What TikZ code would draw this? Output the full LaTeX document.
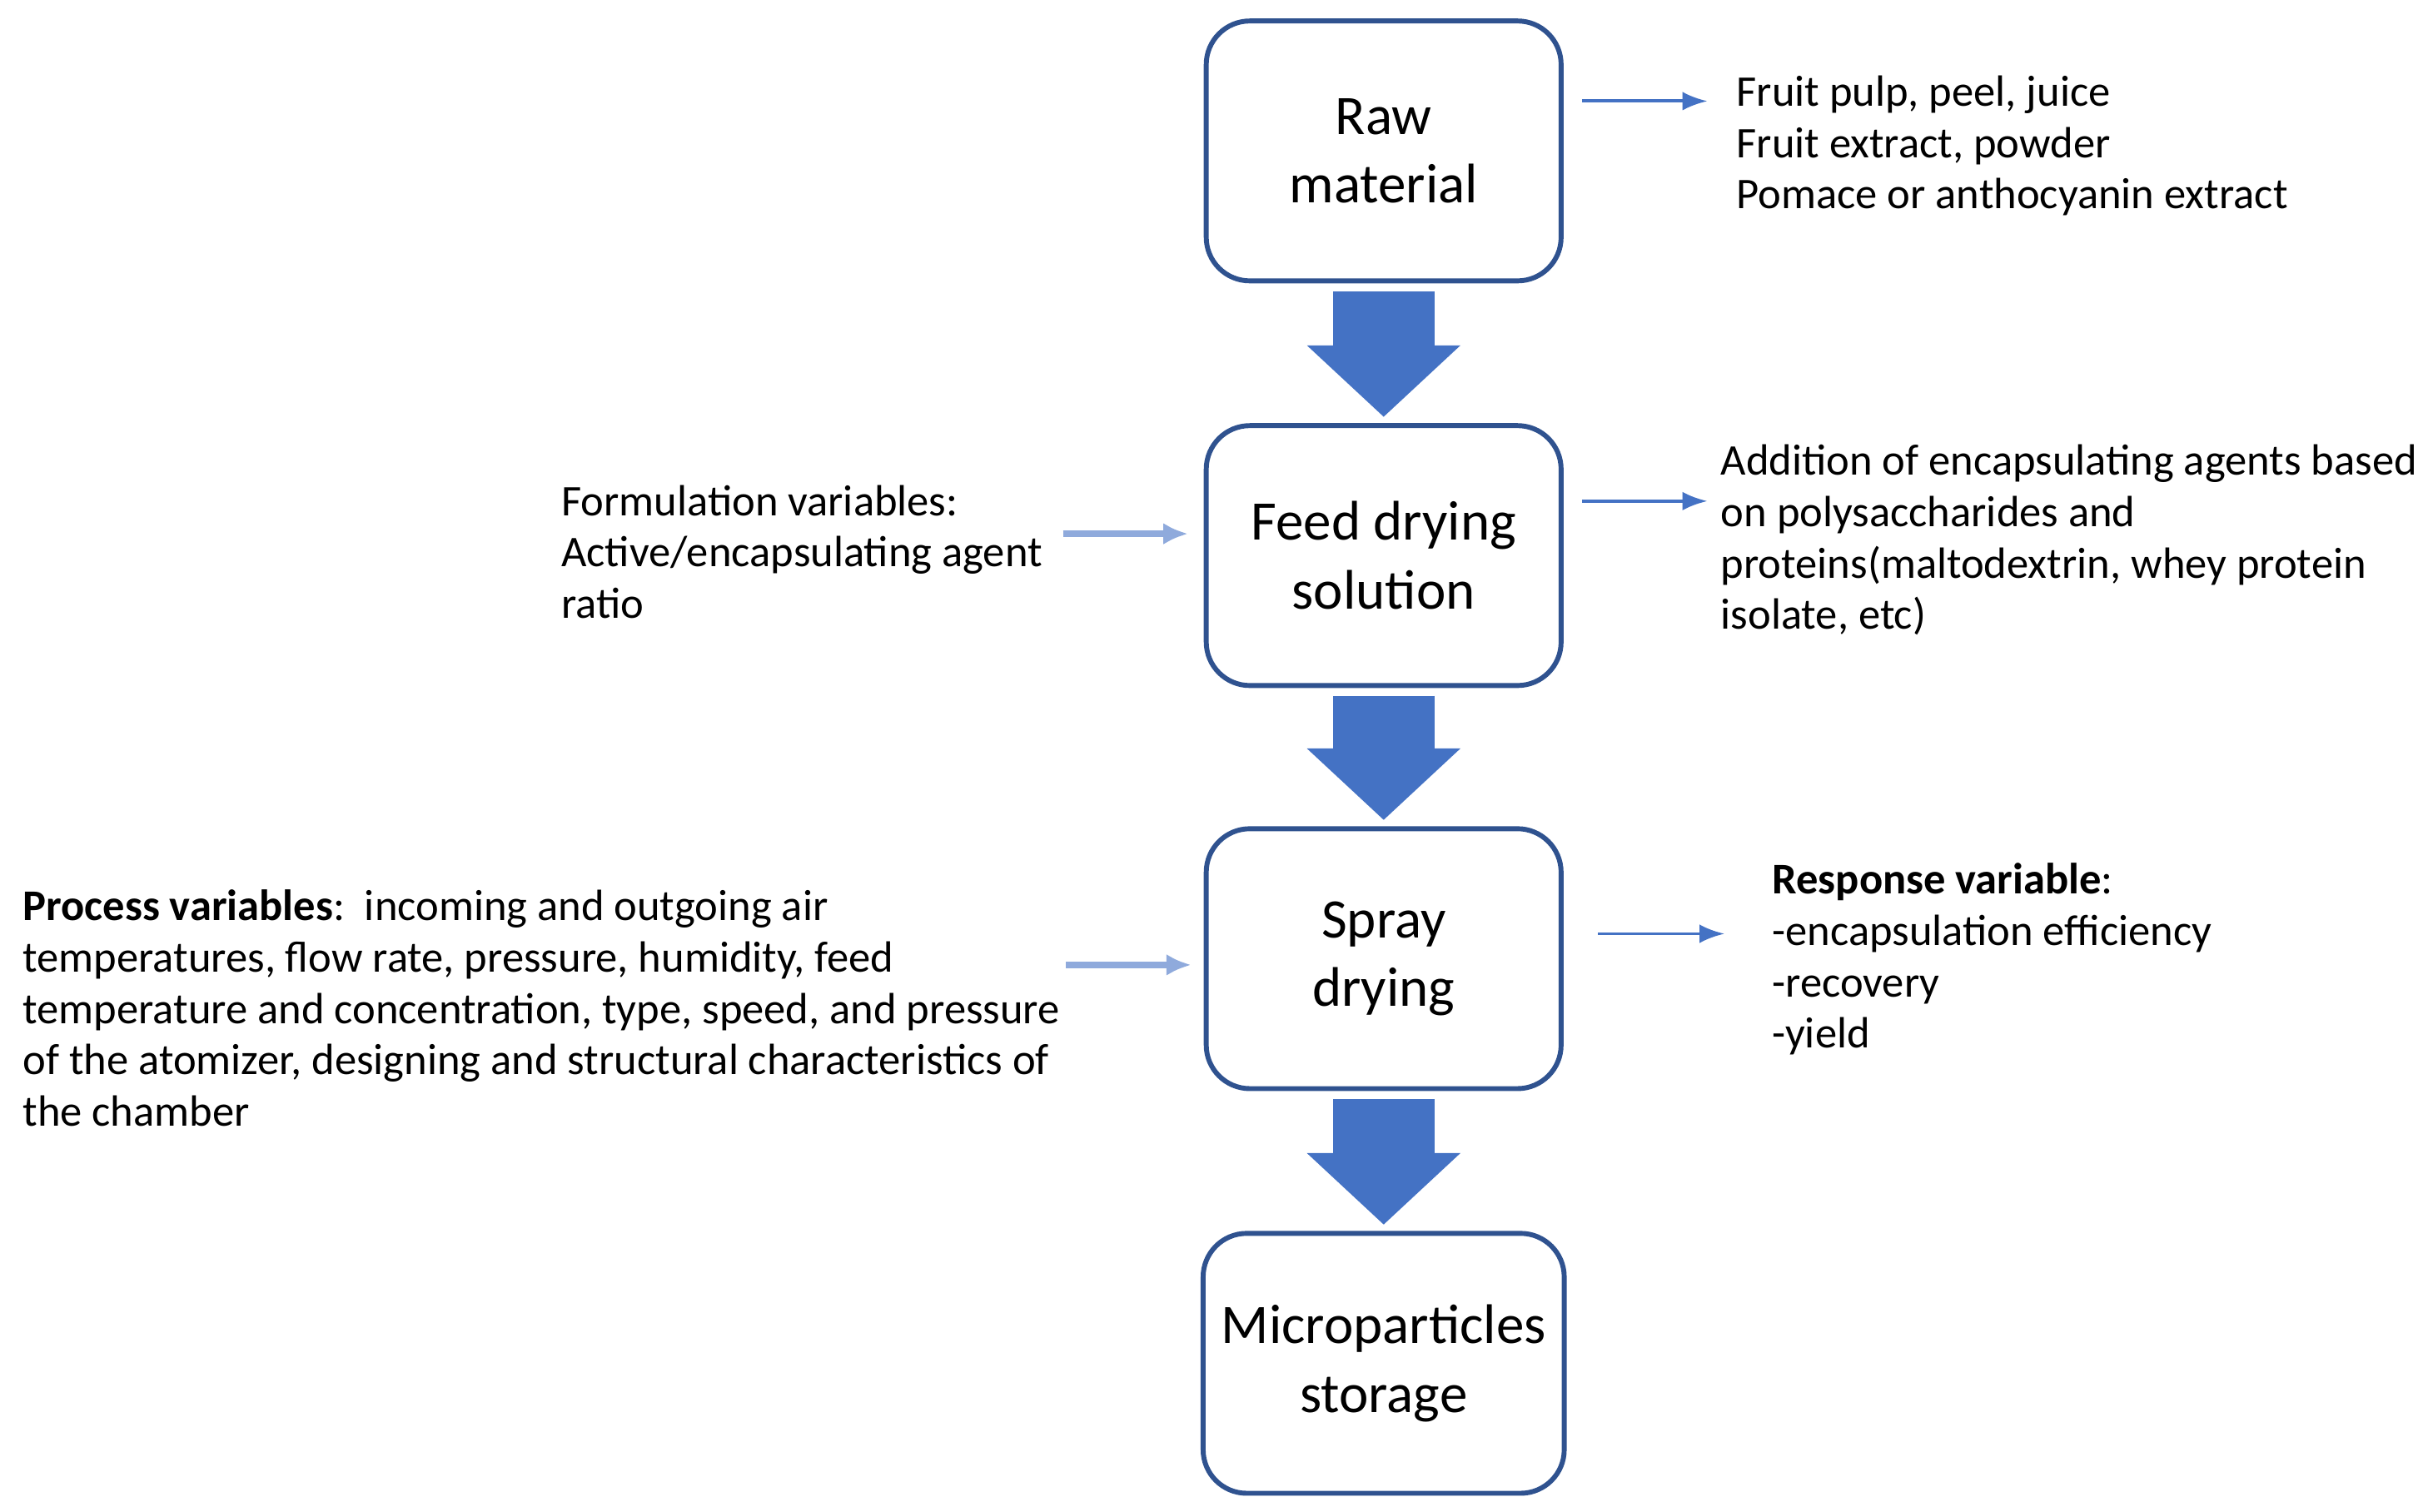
\documentclass[tikz,border=0pt]{standalone}
\usepackage{fontspec}
\setmainfont{Carlito}
\usetikzlibrary{positioning,arrows.meta}
\definecolor{boxline}{HTML}{2F528F}
\definecolor{flowblue}{HTML}{4472C4}
\definecolor{thinblue}{HTML}{8FAADC}

\begin{document}
\begin{tikzpicture}[
  stage/.style={draw=boxline, line width=0.9pt, rounded corners=0.28cm, minimum width=2.28cm, minimum height=1.67cm, align=center, font=\fontsize{10.2}{12.6}\selectfont},
  bigarrow/.style={line width=6.5mm, flowblue, -{Triangle[length=4.6mm, width=9.6mm]}, shorten <=0.5mm, shorten >=0.4mm},
  side/.style={->, flowblue, line width=0.6pt, >={Latex[length=1.6mm, width=1.2mm]}},
  lside/.style={->, thinblue, line width=1.1pt, >={Latex[length=1.6mm, width=1.4mm]}},
  note/.style={anchor=north west, align=left, inner sep=0pt, font=\fontsize{8}{9.4}\selectfont}
]
\useasboundingbox (0,0) rectangle (15.6,9.71);

% main chain
\node[stage] (raw) at (8.89,8.74) {Raw\\material};
\node[stage] (feed) at (8.89,6.14) {Feed drying\\solution};
\node[stage] (spray) at (8.89,3.55) {Spray\\drying};
\node[stage] (store) at (8.89,0.95) {Microparticles\\storage};

\draw[bigarrow] (raw) -- (feed);
\draw[bigarrow] (feed) -- (spray);
\draw[bigarrow] (spray) -- (store);

% notes
\node[note] (rawnote) at (11.15,9.23) {Fruit pulp, peel, juice\\Fruit extract, powder\\Pomace or anthocyanin extract};
\node[note] (feednote) at (11.05,6.86) {Addition of encapsulating agents based\\on polysaccharides and\\proteins(maltodextrin, whey protein\\isolate, etc)};
\node[note] (formnote) at (3.6,6.6) {Formulation variables:\\Active/encapsulating agent\\ratio};
\node[note] (procnote) at (0.14,4.0) {\textbf{Process variables}:\ \ incoming and outgoing air\\temperatures, flow rate, pressure, humidity, feed\\temperature and concentration, type, speed, and pressure\\of the atomizer, designing and structural characteristics of\\the chamber};
\node[note] (respnote) at (11.38,4.17) {\textbf{Response variable}:\\-encapsulation efficiency\\-recovery\\-yield};

\coordinate (rawout) at (10.97,9.06);
\coordinate (feedout) at (10.97,6.49);
\coordinate (sprayout) at (11.08,3.71);
\coordinate (formin) at (6.83,6.28);
\coordinate (procin) at (6.85,3.51);

\draw[side] ([xshift=0.12cm]raw.east |- rawout) -- (rawout);
\draw[side] ([xshift=0.12cm]feed.east |- feedout) -- (feedout);
\draw[side] ([xshift=0.22cm]spray.east |- sprayout) -- (sprayout);
\draw[lside] (formin) -- ([xshift=-0.1cm]feed.west |- formin);
\draw[lside] (procin) -- ([xshift=-0.08cm]spray.west |- procin);
\end{tikzpicture}
\end{document}
